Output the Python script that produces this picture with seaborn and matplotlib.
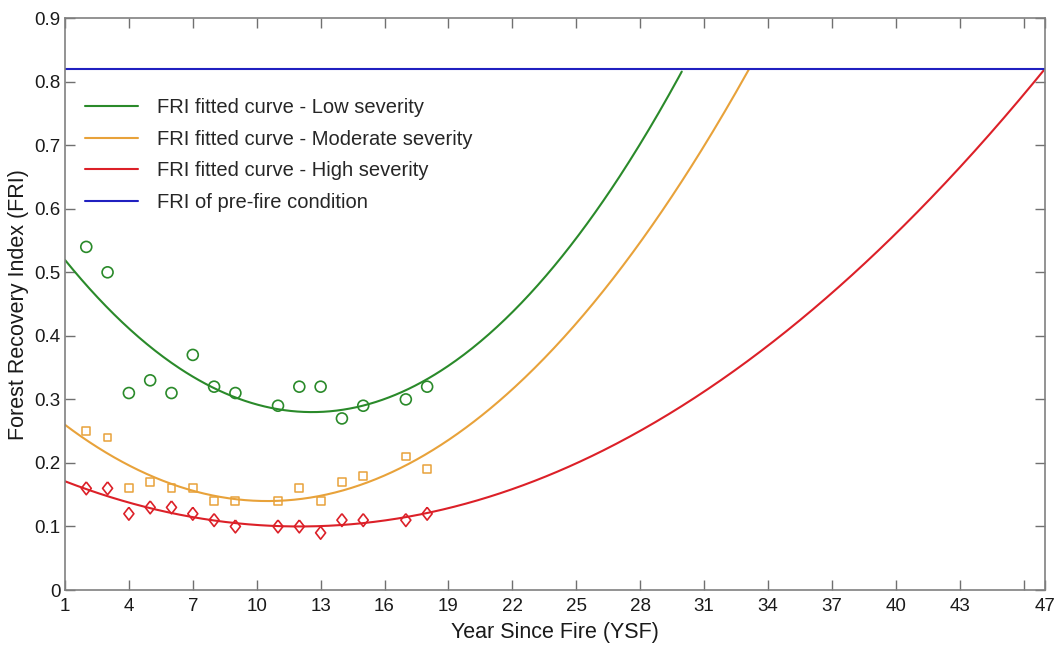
import numpy as np
import pandas as pd
import matplotlib
matplotlib.use("Agg")
import matplotlib.pyplot as plt
import seaborn as sns

# Observed FRI by year since fire
years = [2, 3, 4, 5, 6, 7, 8, 9, 11, 12, 13, 14, 15, 17, 18]
fri_low = [0.54, 0.50, 0.31, 0.33, 0.31, 0.37, 0.32, 0.31, 0.29, 0.32, 0.32, 0.27, 0.29, 0.30, 0.32]
fri_moderate = [0.25, 0.24, 0.16, 0.17, 0.16, 0.16, 0.14, 0.14, 0.14, 0.16, 0.14, 0.17, 0.18, 0.21, 0.19]
fri_high = [0.16, 0.16, 0.12, 0.13, 0.13, 0.12, 0.11, 0.10, 0.10, 0.10, 0.09, 0.11, 0.11, 0.11, 0.12]

# Quadratic fits in vertex form: (curvature, vertex year, minimum FRI)
fit_low = [0.00178, 12.6, 0.280]
fit_moderate = [0.00133, 10.5, 0.140]
fit_high = [0.000588, 12.0, 0.100]

pre_fire_fri = 0.82

x_ticks = [1, 4, 7, 10, 13, 16, 19, 22, 25, 28, 31, 34, 37, 40, 43, 47]
y_ticks = [0, 0.1, 0.2, 0.3, 0.4, 0.5, 0.6, 0.7, 0.8, 0.9]

c_low = "#2a8a2a"
c_mod = "#e8a23a"
c_high = "#dc2028"
c_pre = "#2020c0"

sns.set_style("ticks")
plt.rcParams["font.family"] = ["Liberation Sans", "DejaVu Sans"]

fig = plt.figure(figsize=(10.58, 6.48), dpi=100)
ax = fig.add_axes([0.0614, 0.0895, 0.9263, 0.8825])

grid = np.linspace(1, 47, 600)


def curve(params):
    a, h, k = params
    y = a * (grid - h) ** 2 + k
    return np.where(y <= pre_fire_fri, y, np.nan)


fits = pd.DataFrame({
    "x": grid,
    "low": curve(fit_low),
    "moderate": curve(fit_moderate),
    "high": curve(fit_high),
    "pre": np.full_like(grid, pre_fire_fri),
})

sns.lineplot(data=fits, x="x", y="low", color=c_low, lw=1.5, ax=ax,
             label="FRI fitted curve - Low severity")
sns.lineplot(data=fits, x="x", y="moderate", color=c_mod, lw=1.5, ax=ax,
             label="FRI fitted curve - Moderate severity")
sns.lineplot(data=fits, x="x", y="high", color=c_high, lw=1.5, ax=ax,
             label="FRI fitted curve - High severity")
sns.lineplot(data=fits, x="x", y="pre", color=c_pre, lw=1.5, ax=ax,
             label="FRI of pre-fire condition")

# Slightly wide diamond used for the high-severity observations
diamond = [(0, 1), (0.78, 0), (0, -1), (-0.78, 0), (0, 1)]

obs = pd.DataFrame({"x": years, "low": fri_low, "moderate": fri_moderate, "high": fri_high})
sns.scatterplot(data=obs, x="x", y="low", marker="o", s=62, facecolors="none",
                edgecolor=c_low, linewidth=1.2, ax=ax, legend=False)
sns.scatterplot(data=obs, x="x", y="moderate", marker="s", s=32, facecolors="none",
                edgecolor=c_mod, linewidth=1.1, ax=ax, legend=False)
sns.scatterplot(data=obs, x="x", y="high", marker=diamond, s=85, facecolors="none",
                edgecolor=c_high, linewidth=1.2, ax=ax, legend=False)

ax.set_xlim(1, 47)
ax.set_ylim(0, 0.9)
ax.set_xticks(x_ticks)
ax.set_xticklabels([str(t) for t in x_ticks])
ax.set_xticks([46], minor=True)
ax.set_yticks(y_ticks)
ax.set_yticklabels(["0"] + [f"{t:.1f}" for t in y_ticks[1:]])

ax.tick_params(axis="both", which="both", direction="in", top=True, right=True,
               length=7.5, width=1, color="#707070", labelsize=13.5, labelcolor="#1a1a1a")
ax.tick_params(axis="x", which="both", pad=6)
ax.tick_params(axis="y", which="both", pad=3)
for s in ax.spines.values():
    s.set_color("#808080")
    s.set_linewidth(1.2)

ax.set_xlabel("Year Since Fire (YSF)", fontsize=15.5, color="#1a1a1a", labelpad=5)
ax.set_ylabel("Forest Recovery Index (FRI)", fontsize=15.5, color="#1a1a1a", labelpad=4)

leg = ax.legend(loc="upper left", bbox_to_anchor=(0.0, 0.895), frameon=False,
                fontsize=14.5, handlelength=2.65, handletextpad=0.9, labelspacing=0.62,
                borderaxespad=0.6)

fig.savefig("out.png", dpi=100)
